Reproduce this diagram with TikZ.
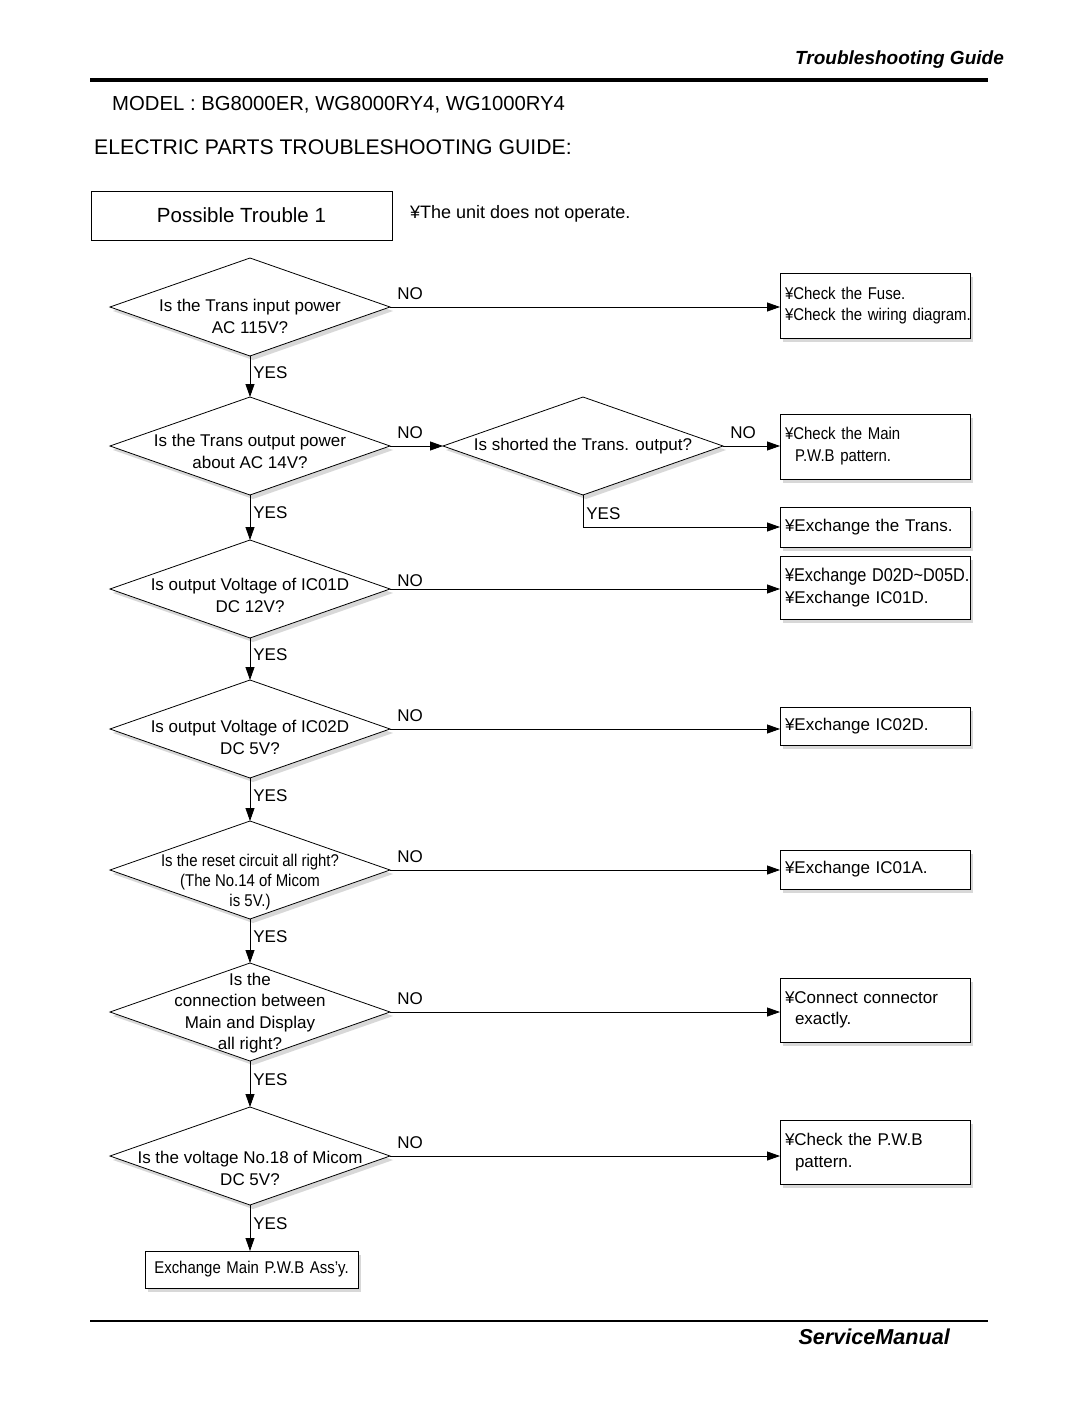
\documentclass[tikz,border=0pt]{standalone}
\usepackage{fontspec}
\setmainfont{Liberation Sans}
\newfontfamily\narrowfont[FakeStretch=0.88]{Liberation Sans}
\usetikzlibrary{arrows.meta, shapes.geometric, shadows}

\begin{document}
\begin{tikzpicture}[x=1pt, y=-1pt,
  every node/.style={font=\fontsize{17}{21.5}\selectfont},
  ask/.style={diamond, draw, fill=white, line width=0.8pt, minimum width=280pt, minimum height=98pt,
    inner sep=0pt, outer sep=0pt, drop shadow={shadow xshift=3pt, shadow yshift=-4pt, fill=black!30}},
  asktext/.style={align=center, inner sep=0pt},
  fix/.style={draw, fill=white, line width=0.8pt, minimum width=190pt, text width=180pt, align=left,
    inner xsep=5pt, inner ysep=0pt, outer sep=0pt, drop shadow={shadow xshift=3pt, shadow yshift=-4pt, fill=black!30}},
  flow/.style={line width=0.8pt, -{Triangle[length=13pt, width=9pt]}},
  yes/.style={pos=0.4, right, inner sep=3pt},
  no/.style={pos=0, anchor=south west, inner sep=0pt, xshift=7pt, yshift=7pt}
]
  \fill[white] (0,0) rectangle (1080,1405);
  \useasboundingbox (0,0) rectangle (1080,1405);

  % page head
  \node[anchor=east, inner sep=0pt, font=\bfseries\itshape\fontsize{19}{22}\selectfont] (head) at (1004,60) {Troubleshooting Guide};
  \draw[line width=4pt] (90,80) -- (988,80);
  \node[anchor=west, inner sep=0pt, font=\fontsize{20.3}{24}\selectfont] (model) at (112,105) {MODEL : BG8000ER, WG8000RY4, WG1000RY4};
  \node[anchor=west, inner sep=0pt, font=\fontsize{21.2}{24}\selectfont] (title) at (94,147) {ELECTRIC PARTS TROUBLESHOOTING GUIDE:};

  \node[draw, line width=0.8pt, minimum width=301pt, minimum height=49pt, inner sep=0pt, font=\fontsize{20.5}{24}\selectfont] (trouble) at (241.5,215.5) {Possible Trouble 1};
  \node[anchor=west, inner sep=0pt, font=\fontsize{18}{21.5}\selectfont] (symptom) at (410,214) {¥The unit does not operate.};

  % questions
  \node[ask] (q1) at (250,307) {};
  \node[asktext] (t1) at (250,316.5) {Is the Trans input power\\AC 115V?};
  \node[ask] (q2) at (250,446) {};
  \node[asktext] (t2) at (250,451.5) {Is the Trans output power\\about AC 14V?};
  \node[ask] (q3) at (583,446) {};
  \node[asktext] (t3) at (583,446) {Is shorted the Trans. output?};
  \node[ask] (q4) at (250,589) {};
  \node[asktext] (t4) at (250,595.5) {Is output Voltage of IC01D\\DC 12V?};
  \node[ask] (q5) at (250,729) {};
  \node[asktext] (t5) at (250,737.5) {Is output Voltage of IC02D\\DC 5V?};
  \node[ask] (q6) at (250,870) {};
  \node[asktext, font=\narrowfont\fontsize{17}{20}\selectfont] (t6) at (250,882) {Is the reset circuit all right?\\(The No.14 of Micom\\is 5V.)};
  \node[ask] (q7) at (250,1012) {};
  \node[asktext] (t7) at (250,1013) {Is the\\connection between\\Main and Display\\all right?};
  \node[ask] (q8) at (250,1156) {};
  \node[asktext] (t8) at (250,1168.5) {Is the voltage No.18 of Micom\\DC 5V?};

  % fixes
  \node[fix, minimum height=65pt, font=\narrowfont\fontsize{17}{21.5}\selectfont] (b1) at (875,305.5) {\mbox{¥Check the Fuse.}\\\mbox{¥Check the wiring diagram.}};
  \node[fix, minimum height=65pt, font=\narrowfont\fontsize{17}{22}\selectfont] (b2) at (875,446.5) {¥Check the Main\\\hspace*{10pt}P.W.B pattern.};
  \node[fix, minimum height=40pt] (b3) at (875,527) {¥Exchange the Trans.};
  \node[fix, minimum height=63pt] (b4) at (875,587.5) {\mbox{\narrowfont\fontsize{18.5}{22}\selectfont ¥Exchange D02D\textasciitilde D05D.}\\\mbox{¥Exchange IC01D.}};
  \node[fix, minimum height=38pt] (b5) at (875,726) {¥Exchange IC02D.};
  \node[fix, minimum height=39pt] (b6) at (875,869.5) {¥Exchange IC01A.};
  \node[fix, minimum height=64pt] (b7) at (875,1010) {¥Connect connector\\\hspace*{10pt}exactly.};
  \node[fix, minimum height=64pt] (b8) at (875,1152) {¥Check the P.W.B\\\hspace*{10pt}pattern.};
  \node[fix, minimum width=213pt, text width=203pt, align=center, minimum height=37pt, font=\narrowfont\fontsize{17}{21}\selectfont] (last) at (251.5,1269.5) {Exchange Main P.W.B Ass’y.};

  % NO branches
  \draw[flow] (q1.east) -- node[no] (n1) {NO} (q1.east -| b1.west);
  \draw[flow] (q2.east) -- node[no] (n2) {NO} (q3.west);
  \draw[flow] (q3.east) -- node[no] (n3) {NO} (q3.east -| b2.west);
  \draw[flow] (q4.east) -- node[no, yshift=-5pt] (n4) {NO} (q4.east -| b4.west);
  \draw[flow] (q5.east) -- node[no] (n5) {NO} (q5.east -| b5.west);
  \draw[flow] (q6.east) -- node[no] (n6) {NO} (q6.east -| b6.west);
  \draw[flow] (q7.east) -- node[no] (n7) {NO} (q7.east -| b7.west);
  \draw[flow] (q8.east) -- node[no] (n8) {NO} (q8.east -| b8.west);

  % YES branches
  \draw[flow] (q1.south) -- node[yes] (y1) {YES} (q2.north);
  \draw[flow] (q3.south) |- node[pos=0.5, above right, inner sep=3pt, yshift=4pt] (y3) {YES} (b3.west);
  \draw[flow] (q2.south) -- node[yes] (y2) {YES} (q4.north);
  \draw[flow] (q4.south) -- node[yes] (y4) {YES} (q5.north);
  \draw[flow] (q5.south) -- node[yes] (y5) {YES} (q6.north);
  \draw[flow] (q6.south) -- node[yes] (y6) {YES} (q7.north);
  \draw[flow] (q7.south) -- node[yes] (y7) {YES} (q8.north);
  \draw[flow] (q8.south) -- node[yes] (y8) {YES} (last.north -| q8.south);

  % page foot
  \draw[line width=2.5pt] (90,1321) -- (988,1321);
  \node[anchor=east, inner sep=0pt, font=\bfseries\itshape\fontsize{21.6}{24}\selectfont] (foot) at (950,1337) {ServiceManual};
\end{tikzpicture}
\end{document}
